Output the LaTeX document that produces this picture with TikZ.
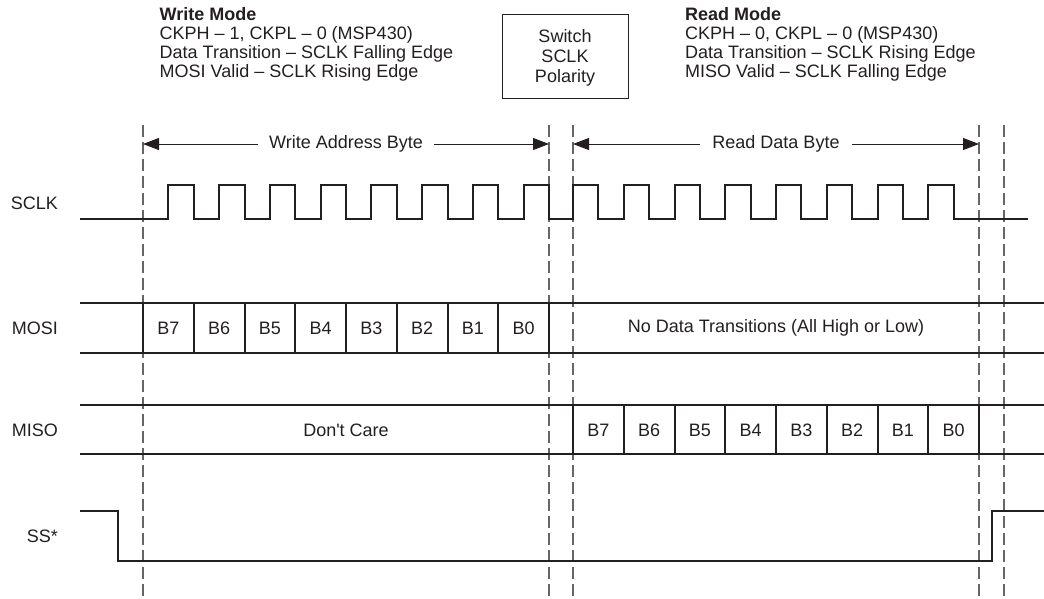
\documentclass[tikz,border=0pt]{standalone}
\usepackage{fontspec}
\setmainfont{Liberation Sans}
\usetikzlibrary{arrows.meta}
\definecolor{ink}{HTML}{231F20}

\begin{document}
\begin{tikzpicture}[x=1pt,y=-1pt]
        \tikzset{txt/.style = {inner sep=0pt, text=ink, font=\fontsize{18}{19}\selectfont}}
        \tikzset{wave/.style = {draw=ink, line width=2pt}}
        \tikzset{guide/.style = {draw=black!60, line width=1.1pt, dash pattern=on 12pt off 5pt}}
        \tikzset{span/.style = {draw=ink, line width=0.9pt, -{Triangle[length=16pt,width=12pt]}}}
        \useasboundingbox (0,0) rectangle (1044,598);
        % mode notes
        \node[txt, anchor=base west, font=\fontsize{18}{19}\selectfont\bfseries] (wm0) at (159.5,20.7) {Write Mode};
        \node[txt, anchor=base west] (wm1) at (159.5,39.6) {CKPH – 1, CKPL – 0 (MSP430)};
        \node[txt, anchor=base west] (wm2) at (159.5,58.5) {Data Transition – SCLK Falling Edge};
        \node[txt, anchor=base west] (wm3) at (159.5,77.4) {MOSI Valid – SCLK Rising Edge};
        \node[txt, anchor=base west, font=\fontsize{18}{19}\selectfont\bfseries] (rm0) at (685,20.7) {Read Mode};
        \node[txt, anchor=base west] (rm1) at (685,39.6) {CKPH – 0, CKPL – 0 (MSP430)};
        \node[txt, anchor=base west] (rm2) at (685,58.5) {Data Transition – SCLK Rising Edge};
        \node[txt, anchor=base west] (rm3) at (685,77.4) {MISO Valid – SCLK Falling Edge};
        \node[draw=ink, line width=1pt, minimum width=126pt, minimum height=84pt] (sw) at (565,56) {};
        \node[txt, anchor=base] (sw1) at (565,42) {Switch};
        \node[txt, anchor=base] (sw2) at (565,62) {SCLK};
        \node[txt, anchor=base] (sw3) at (565,82) {Polarity};
        % guides
        \foreach \gx [count=\i] in {143,549,573,979,1004} {
            \coordinate (gt\i) at (\gx,125);
            \coordinate (gb\i) at (\gx,597);
            \draw[guide] (gt\i) -- (gb\i);
        }
        % byte spans
        \node[txt, inner xsep=11pt] (wab) at (346,144) {Write Address Byte};
        \node[txt, inner xsep=12pt] (rdb) at (776,144) {Read Data Byte};
        \coordinate (wl) at (143,144);
        \coordinate (wr) at (549,144);
        \coordinate (rl) at (573,144);
        \coordinate (rr) at (979,144);
        \draw[span] (wab.west) -- (wl);
        \draw[span] (wab.east) -- (wr);
        \draw[span] (rdb.west) -- (rl);
        \draw[span] (rdb.east) -- (rr);
        % signal names
        \node[txt, anchor=east] (sclk) at (58,203) {SCLK};
        \node[txt, anchor=east] (mosi) at (58,328.3) {MOSI};
        \node[txt, anchor=east] (miso) at (58,430) {MISO};
        \node[txt, anchor=east] (ss) at (58,536.5) {SS*};
        % SCLK
        \draw[wave] (80,219)
            foreach \k in {0,...,7} { -- ({143+50.75*(\k+0.5)},219) -- ++(0,-34) -- ({143+50.75*(\k+1)},185) -- ++(0,34) }
            foreach \k in {0,...,7} { -- ({573+50.75*\k},219) -- ++(0,-34) -- ++(25.375,0) -- ++(0,34) }
            -- (1028,219);
        % MOSI
        \draw[wave] (80,303.3) -- (1044,303.3);
        \draw[wave] (80,353.3) -- (1044,353.3);
        \foreach \b [count=\i from 0] in {7,...,0} {
            \draw[wave] ({143+50.75*\i},303.3) -- ++(0,50);
            \node[txt] (mo\b) at ({143+50.75*(\i+0.5)},328.3) {B\b};
        }
        \draw[wave] (549,303.3) -- ++(0,50);
        \node[txt] (nodata) at (776,328.3) {No Data Transitions (All High or Low)};
        % MISO
        \draw[wave] (80,405) -- (1044,405);
        \draw[wave] (80,454.3) -- (1044,454.3);
        \foreach \b [count=\i from 0] in {7,...,0} {
            \draw[wave] ({573+50.75*\i},405) -- ++(0,49.3);
            \node[txt] (mi\b) at ({573+50.75*(\i+0.5)},430) {B\b};
        }
        \draw[wave] (979,405) -- ++(0,49.3);
        \node[txt] (dc) at (346,430) {Don\textquotesingle t Care};
        % SS*
        \draw[wave] (80,511) -- (117.7,511) -- (117.7,561) -- (991.7,561) -- (991.7,511) -- (1044,511);
\end{tikzpicture}
\end{document}
